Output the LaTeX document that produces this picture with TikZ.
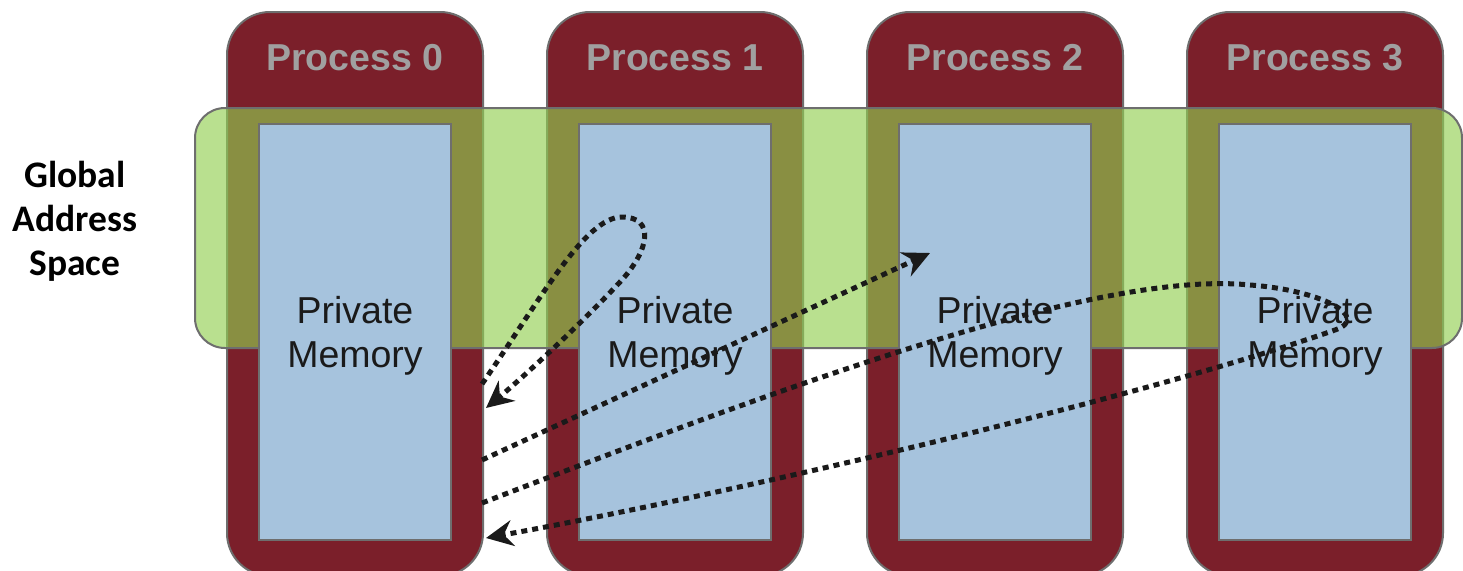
\documentclass[tikz,border=0pt]{standalone}
\usepackage{fontspec}
\setmainfont{Liberation Sans}
\newfontfamily\calfont{Carlito}
\usetikzlibrary{arrows.meta}
\definecolor{procred}{RGB}{123,31,42}
\definecolor{bordergray}{RGB}{110,110,110}
\definecolor{gasgreen}{RGB}{146,207,80}
\definecolor{memblue}{RGB}{166,195,221}
\definecolor{titlegray}{RGB}{160,160,160}
\definecolor{textdark}{RGB}{26,26,26}
\begin{document}
\begin{tikzpicture}[x=1pt,y=-1pt,
  procbox/.style={draw=bordergray, line width=2pt, fill=procred, rounded corners=43pt,
    minimum width=256pt, minimum height=564pt, inner sep=0pt},
  gasband/.style={draw=bordergray, line width=2pt, fill=gasgreen, fill opacity=0.64,
    draw opacity=1, rounded corners=30pt, minimum width=1267pt, minimum height=240pt, inner sep=0pt},
  memnode/.style={draw=bordergray, line width=2pt, fill=memblue, minimum width=192pt,
    minimum height=416pt, inner sep=0pt},
  memtext/.style={align=center, font=\fontsize{37.5}{44}\selectfont, text=textdark, inner sep=0pt},
  proctitle/.style={font=\fontsize{37.5}{40}\selectfont\bfseries, text=titlegray, inner sep=0pt},
  gaslabel/.style={font=\calfont\bfseries\fontsize{37.5}{44}\selectfont, align=center, text=black, inner sep=0pt},
  dotarrow/.style={line width=5pt, draw=textdark, dash pattern=on 6pt off 5pt,
    -{Stealth[length=27pt,width=26pt,inset=9pt]}}
]
\useasboundingbox (0,0) rectangle (1463,570);
\clip (0,0) rectangle (1463,570);
\fill[white] (0,0) rectangle (1463,570);

% process boxes
\foreach \i in {0,1,2,3}{
  \node[procbox] (p\i) at (355+320*\i,294) {};
  \node[proctitle] (t\i) at (355+320*\i,58) {Process \i};
}

% global address space band
\node[gasband] (gas) at (828.5,228) {};

% private memories
\foreach \i in {0,1,2,3}{
  \node[memnode] (m\i) at (355+320*\i,332) {};
  \node[memtext] (mt\i) at (355+320*\i,336) {Private\\Memory};
}

\node[gaslabel] (gl) at (75,221) {Global\\Address\\Space};

% connectors
\coordinate (s1) at (482,384);
\coordinate (e1) at (486,408);
\coordinate (s2) at (482,460);
\coordinate (e2) at (930,253);
\coordinate (s3) at (482,503);
\coordinate (e3) at (486,538);

\draw[dotarrow] (s1) .. controls (540,300) and (585,217) .. (622,217)
  .. controls (655,217) and (650,250) .. (620,282)
  .. controls (580,325) and (520,380) .. (e1);
\draw[dotarrow] (s2) -- (e2);
\draw[dotarrow] (s3) .. controls (800,380) and (1100,270) .. (1250,285)
  .. controls (1320,290) and (1372,317) .. (1335,330)
  .. controls (1150,395) and (750,490) .. (e3);
\end{tikzpicture}
\end{document}
